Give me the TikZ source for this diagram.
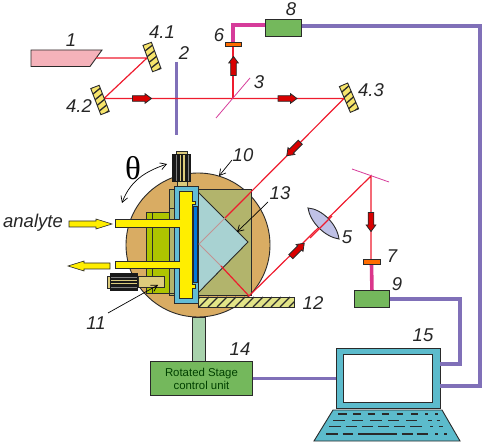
\documentclass[tikz,border=0pt]{standalone}
\usepackage{fontspec}
\setmainfont{Liberation Sans}
\newfontfamily\thetafont{Liberation Serif}
\usetikzlibrary{arrows.meta}
\definecolor{beam}{HTML}{EE1C2E}
\definecolor{wire}{HTML}{8070B8}
\definecolor{mag}{HTML}{D63C9A}
\definecolor{boxgreen}{HTML}{74B85C}
\definecolor{tan1}{HTML}{D9AC63}
\definecolor{olive1}{HTML}{B2B46C}
\definecolor{olive2}{HTML}{AEC400}
\definecolor{sand}{HTML}{DCCB7C}
\definecolor{cyan1}{HTML}{62BCD6}
\definecolor{teal1}{HTML}{5CBBCC}
\definecolor{prism}{HTML}{A8D2D2}
\definecolor{yel}{HTML}{FFEE00}
\definecolor{edge}{HTML}{2A2A2A}
\definecolor{lasercol}{HTML}{F5B2BA}
\definecolor{mirrorcol}{HTML}{F7E56C}
\definecolor{tablecol}{HTML}{E2E488}
\definecolor{pillar}{HTML}{A8D2AC}
\tikzset{
  lab/.style={font=\fontsize{18.5}{20}\selectfont\itshape,inner sep=0pt,text=black!85},
  ray/.style={draw=beam,line width=1.2pt},
  wireline/.style={draw=wire,line width=3.6pt,line join=miter},
  magline/.style={draw=mag,line width=3.6pt,line join=miter},
  greenbox/.style={draw=edge,fill=boxgreen,line width=.9pt,inner sep=0pt,anchor=north west},
  part/.style={draw=edge,line width=.9pt},
  pointer/.style={draw=black,line width=.7pt,-{Straight Barb[length=6pt,width=7pt]}},
  filterbar/.style={draw=edge,fill=orange!85!red,line width=.8pt,inner sep=0pt,anchor=north west},
}
\newcommand{\mirrorbar}[3]{%
  \begin{scope}[shift={(#1,#2)},rotate=#3]
    \begin{scope}
      \clip (-14,-4.5) rectangle (14,4.5);
      \fill[mirrorcol] (-14,-4.5) rectangle (14,4.5);
      \foreach \i in {-14,-8,...,22} \draw[line width=1.3pt,edge] (\i,4.5) -- (\i-3,-4.5);
    \end{scope}
    \draw[part] (-14,-4.5) rectangle (14,4.5);
  \end{scope}}
\newcommand{\beamarrow}[3]{%
  \begin{scope}[shift={(#1,#2)},rotate=#3]
    \draw[draw=edge,fill=red!85!black,line width=.8pt] (-9.5,-2.8) -- (3,-2.8) -- (3,-4.8) -- (9.5,0) -- (3,4.8) -- (3,2.8) -- (-9.5,2.8) -- cycle;
  \end{scope}}
\begin{document}
\begin{tikzpicture}[x=1pt,y=-1pt]
\useasboundingbox (0,0) rectangle (484,443);
% rotary stage disc
\draw[part,fill=tan1] (198,245) circle (72);
% support pillar
\draw[part,fill=pillar] (192,317) rectangle (205,361);
% olive mounts
\draw[part,fill=olive1] (169,189) rectangle (251,295);
\draw[part,fill=olive2] (146,212) rectangle (169,293);
\draw[part] (152,212) -- (152,293);
\draw[part,fill=olive1] (169,208) rectangle (174,293);
% prism
\coordinate (p1) at (198,192);
\coordinate (p2) at (248,242);
\coordinate (p3) at (198,293);
\draw[part,fill=prism] (p1) -- (p2) -- (p3) -- cycle;
% holder
\draw[part,fill=cyan1] (174,186) rectangle (198,303);
\draw[part,fill=yel] (179,191) -- (192,191) -- (192,201) -- (195,201) -- (195,204) -- (192.5,204) -- (192.5,284) -- (195,284) -- (195,288) -- (192,288) -- (192,298) -- (179,298) -- cycle;
\draw[draw=edge,fill=blue!45!cyan!85!black,line width=.6pt] (193,206) rectangle (197,282);
% tubes
\draw[part,fill=yel] (180,219) -- (115,219) -- (115,227) -- (180,227);
\draw[part,fill=yel] (180,261) -- (115,261) -- (115,268) -- (180,268);
\fill[yel] (178,220) rectangle (181,226.5);
\fill[yel] (178,262) rectangle (181,267.5);
% analyte arrows
\draw[draw=edge,fill=yel,line width=.6pt] (69,221) -- (96,221) -- (96,219) -- (112,224) -- (96,229) -- (96,227) -- (69,227) -- cycle;
\draw[draw=edge,fill=yel,line width=.6pt] (110,263) -- (84,263) -- (84,261) -- (68,266) -- (84,271) -- (84,269) -- (110,269) -- cycle;
% side motor
\draw[part,fill=sand] (138,276) rectangle (164,287);
\draw[part,fill=sand] (107,276) rectangle (111,288);
\fill[black!90] (110,273) rectangle (138,291);
\foreach \yy in {277,287} \draw[gray,line width=.5pt] (111,\yy) -- (137,\yy);
\foreach \yy in {280.5,283.5} \draw[sand,line width=1.2pt] (111,\yy) -- (137,\yy);
% top motor
\draw[part,fill=sand] (176,151) rectangle (187,155);
\draw[part,fill=sand] (177,181) rectangle (187,186);
\fill[black!90] (172,154) rectangle (191,182);
\foreach \xx in {176,188} \draw[gray,line width=.5pt] (\xx,155) -- (\xx,181);
\foreach \xx in {180.5,184} \draw[sand,line width=1.3pt] (\xx,155) -- (\xx,181);
% table
\begin{scope}
  \clip (198,297) rectangle (294,307);
  \fill[tablecol] (198,297) rectangle (294,307);
  \foreach \i in {190,199,...,295} \draw[line width=1.4pt,edge] (\i,307) -- (\i+10,297);
\end{scope}
\draw[part] (198,297) rectangle (294,307);
% nodes
\node[greenbox,minimum width=36pt,minimum height=17pt] (box8) at (265,19) {};
\node[greenbox,minimum width=35pt,minimum height=17pt] (box9) at (354,290) {};
\node[greenbox,minimum width=102pt,minimum height=34pt,align=center,text=black!75!green,font=\fontsize{11.4}{13}\selectfont] (unit) at (150,361) {Rotated Stage\\control unit};
\node[part,fill=teal1,inner sep=0pt,anchor=north west,minimum width=104pt,minimum height=60pt] (laptop) at (336,348) {};
\draw[part,fill=white] (343,354) rectangle (432,402);
\draw[part,fill=teal1] (333,410) -- (442,410) -- (460,441) -- (314,441) -- cycle;
\begin{scope}[shift={(300,160)},x=.33333pt,y=-.33333pt]
  \foreach \a/\b in {115/140,160/183,203/225,245/268,290/310,333/353,375/385,405/413} \draw[line width=1.4pt,edge] (\a,762) -- (\b,762);
  \foreach \a/\b in {100/135,155/190,210/245,265/298,318/352,385/395,410/420} \draw[line width=1.4pt,edge] (\a,782) -- (\b,782);
  \foreach \a/\b in {88/122,137/170,185/220,235/268,282/315,330/365,390/400,418/428} \draw[line width=1.4pt,edge] (\a,800) -- (\b,800);
  \foreach \a/\b in {78/115,128/160,175/290,305/340,350/385,405/415,432/442} \draw[line width=1.4pt,edge] (\a,822) -- (\b,822);
\end{scope}
% wires
\coordinate (w8a) at (480,26);
\coordinate (w8b) at (480,386);
\coordinate (w8c) at (440,386);
\draw[wireline] (box8.east |- w8a) -- (w8a) -- (w8b) -- (w8c);
\coordinate (w9a) at (460,299);
\coordinate (w9b) at (460,364);
\coordinate (w9c) at (440,364);
\draw[wireline] (box9.east |- w9a) -- (w9a) -- (w9b) -- (w9c);
\draw[wireline] (unit.east) -- (laptop.west |- unit.east);
% slit
\draw[draw=wire,line width=3.6pt] (176.5,62) -- (176.5,135);
% laser
\draw[part,fill=lasercol] (31,50) -- (102,50) -- (90,66.5) -- (31,66.5) -- cycle;
% beam
\coordinate (b0) at (96,58);
\coordinate (b1) at (147,58);
\coordinate (b2) at (104,98.5);
\coordinate (b3) at (233,98.5);
\coordinate (b4) at (344,98.5);
\coordinate (b5) at (225,218);
\coordinate (b6) at (199,244);
\coordinate (b7) at (221,266);
\coordinate (b8) at (249,296);
\coordinate (b9) at (371,176);
\coordinate (b10) at (371,259);
\draw[ray] (b0) -- (b1) -- (b2) -- (b4) -- (b5);
\draw[ray] (b3) -- (233,46);
\draw[draw=prism!70!red,line width=.8pt] (b5) -- (b6) -- (b7);
\draw[ray] (b7) -- (b8) -- (b9) -- (b10);
% mirrors
\mirrorbar{152}{57}{-70}
\mirrorbar{100}{100}{-69}
\mirrorbar{349}{97.7}{-67}
\draw[draw=mag,line width=.8pt] (216,118) -- (250,78);
\draw[draw=mag,line width=.8pt] (352,169) -- (389,182);
% lens
\draw[draw=edge,line width=.9pt,fill=cyan!25!blue!25!white] (308,208) .. controls (322,209) and (337,224) .. (339,239) .. controls (325,237) and (310,222) .. (308,208) -- cycle;
\draw[ray] (310,238) -- (332,216);
% magenta paths and filters
\coordinate (m6a) at (233,25);
\draw[magline] (233,42) -- (m6a) -- (box8.west |- m6a);
\coordinate (m7) at (371.5,264);
\draw[draw=red!10!mag,line width=3.6pt] (m7) -- (box9.north);
\node[filterbar,minimum width=16pt,minimum height=4.5pt] (f6) at (225,42) {};
\node[filterbar,minimum width=17pt,minimum height=5pt] (f7) at (363,259) {};
% block arrows
\beamarrow{142}{98.5}{0}
\beamarrow{287.5}{98.5}{0}
\beamarrow{233.5}{66}{90}
\beamarrow{293.5}{149}{225}
\beamarrow{297.5}{250}{45}
\beamarrow{371}{222}{-90}
% theta
\coordinate (t1) at (167,164);
\coordinate (t2) at (122,203);
\draw[draw=black,line width=.7pt,{Straight Barb[length=6pt,width=7pt]}-{Straight Barb[length=6pt,width=7pt]}] (t1) .. controls (150,170) and (131,178) .. (t2);
\node[inner sep=0pt,font=\thetafont\fontsize{33}{33}\selectfont] (theta) at (133,168) {θ};
% labels
\node[lab] (l1) at (71,40) {1};
\node[lab] (l41) at (162,32) {4.1};
\node[lab] (l2) at (184,53) {2};
\node[lab] (l42) at (79,106) {4.2};
\node[lab] (l6) at (219,35) {6};
\node[lab] (l3) at (259,82) {3};
\node[lab] (l8) at (291,9) {8};
\node[lab] (l43) at (371,90) {4.3};
\node[lab] (l10) at (243,155) {10};
\node[lab] (l13) at (280,193) {13};
\node[lab] (l5) at (347,237) {5};
\node[lab] (l7) at (392,256) {7};
\node[lab] (l9) at (397,284) {9};
\node[lab] (l12) at (313,303) {12};
\node[lab] (l15) at (423,335) {15};
\node[lab] (l14) at (240,349) {14};
\node[lab] (l11) at (96,323) {11};
\node[lab] (analyte) at (33,223) {analyte};
% pointers
\coordinate (t10) at (219,176);
\coordinate (t13) at (237,232);
\coordinate (t11) at (158,285);
\draw[pointer] (232,160) -- (t10);
\draw[pointer] (268,202) -- (t13);
\draw[pointer] (108,313) -- (t11);
\end{tikzpicture}
\end{document}
